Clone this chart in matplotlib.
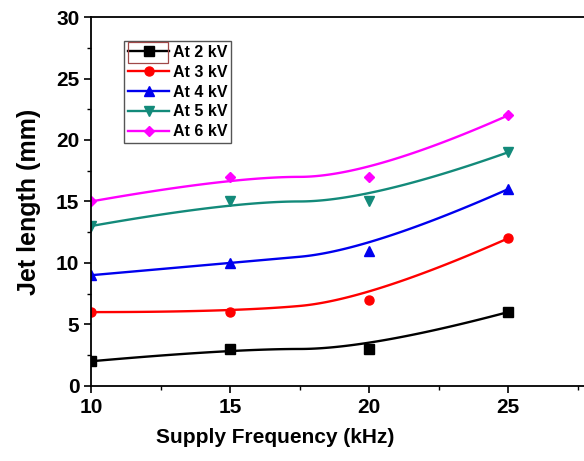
import numpy as np
import matplotlib.pyplot as plt
from matplotlib.ticker import MultipleLocator
from matplotlib.patches import Rectangle

plt.rcParams['font.family'] = ['Liberation Sans', 'DejaVu Sans']
plt.rcParams['font.weight'] = 'bold'

# data
freq = [10, 15, 20, 25]
labels = ['At 2 kV', 'At 3 kV', 'At 4 kV', 'At 5 kV', 'At 6 kV']
kv2 = [2, 3, 3, 6]
kv3 = [6, 6, 7, 12]
kv4 = [9, 10, 11, 16]
kv5 = [13, 15, 15, 19]
kv6 = [15, 17, 17, 22]

colors = ['black', '#ff0000', '#0000ee', '#138a7a', '#ff00ff']
markers = ['s', 'o', '^', 'v', 'D']


# quadratic clamped B-spline using the points as control points (Origin style)
def bspline2(px, py, n=60):
    px = np.asarray(px, float)
    py = np.asarray(py, float)
    mx, my = (px[1] + px[2]) / 2, (py[1] + py[2]) / 2
    s = np.linspace(0, 1, n)
    a, b, c = (1 - s) ** 2, 2 * s * (1 - s), s ** 2
    x1 = a * px[0] + b * px[1] + c * mx
    y1 = a * py[0] + b * py[1] + c * my
    x2 = a * mx + b * px[2] + c * px[3]
    y2 = a * my + b * py[2] + c * py[3]
    return np.concatenate([x1, x2]), np.concatenate([y1, y2])


fig = plt.figure(figsize=(5.84, 4.61), dpi=100)
ax = fig.add_axes([0.156, 0.163, 0.952, 0.800])

for ys, col, mk, lab in zip([kv2, kv3, kv4, kv5, kv6], colors, markers, labels):
    ms = 5.5 if mk == 'D' else 6.5
    sx, sy = bspline2(freq, ys)
    ax.plot(sx, sy, '-', color=col, lw=1.7)
    ax.plot(freq, ys, linestyle='none', marker=mk, color=col, ms=ms)
    ax.plot([], [], '-', color=col, lw=1.7, marker=mk, ms=ms, label=lab)

ax.set_xlim(10, 30)
ax.set_ylim(0, 30)
ax.set_xticks([10, 15, 20, 25])
ax.xaxis.set_minor_locator(MultipleLocator(2.5))
ax.yaxis.set_major_locator(MultipleLocator(5))
ax.yaxis.set_minor_locator(MultipleLocator(2.5))
ax.tick_params(which='major', direction='out', length=5, width=1.2, labelsize=15)
ax.tick_params(which='minor', direction='out', length=3, width=1)
for sp in ax.spines.values():
    sp.set_linewidth(1.3)
for t in ax.get_xticklabels() + ax.get_yticklabels():
    t.set_fontweight('bold')

ax.set_xlabel('Supply Frequency (kHz)', fontsize=15, fontweight='bold')
ax.set_ylabel('Jet length (mm)', fontsize=18, fontweight='bold')
ax.xaxis.set_label_coords(0.331, -0.115)
ax.yaxis.set_label_coords(-0.09, 0.5)

leg = ax.legend(loc='upper left', bbox_to_anchor=(0.059, 0.935), fontsize=11.5,
                fancybox=False, framealpha=1, edgecolor='#555555',
                handlelength=2.6, handletextpad=0.2, borderpad=0.25,
                labelspacing=0.3, borderaxespad=0)
leg.get_frame().set_linewidth(1.0)
for t in leg.get_texts():
    t.set_fontweight('bold')

# thin selection box around the first legend handle, as in the original
fig.add_artist(Rectangle((0.2187, 0.864), 0.0685, 0.0456, transform=fig.transFigure,
                         fill=False, edgecolor='#a04848', lw=0.9, zorder=10))

fig.savefig('out.png', dpi=100)
